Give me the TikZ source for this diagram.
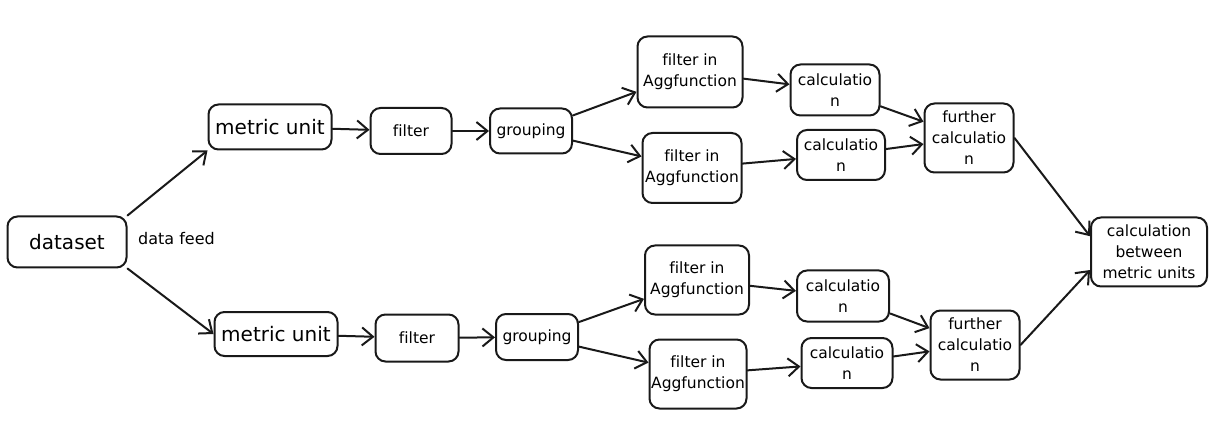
\documentclass[tikz,border=0pt]{standalone}
\usepackage{fontspec}
\setmainfont{DejaVu Sans}[Ligatures={NoCommon}]
\usetikzlibrary{arrows.meta}
\begin{document}
\begin{tikzpicture}[x=1pt,y=-1pt,
  box/.style={draw=black!90, line width=2pt, rounded corners=10pt, align=center,
    inner sep=0pt, font=\fontsize{15.5}{21}\selectfont},
  bigbox/.style={box, font=\fontsize{20}{23}\selectfont},
  conn/.style={draw=black!90, line width=2pt, line cap=round, line join=round,
    -{Straight Barb[length=11pt,width=18pt,line width=2pt]}}]
\useasboundingbox (0,0) rectangle (1215,430);
% nodes
\node[bigbox, minimum width=119pt, minimum height=51pt] (ds) at (67,242) {dataset};
\node[font=\fontsize{16}{18}\selectfont, anchor=west, inner sep=0pt] (feed) at (138,239) {data feed};
% top branch
\node[bigbox, minimum width=123pt, minimum height=45pt] (m1) at (270,127) {metric unit};
\node[box, minimum width=81pt, minimum height=46pt] (f1) at (411,131) {filter};
\node[box, minimum width=82pt, minimum height=45pt] (g1) at (531,131) {grouping};
\node[box, minimum width=105pt, minimum height=71pt] (a1) at (690,72) {filter in\\Aggfunction};
\node[box, minimum width=99pt, minimum height=70pt] (a2) at (692,168) {filter in\\Aggfunction};
\node[box, minimum width=89pt, minimum height=51pt] (c1) at (835,90) {calculatio\\n};
\node[box, minimum width=88pt, minimum height=50pt] (c2) at (841,155) {calculatio\\n};
\node[box, minimum width=89pt, minimum height=69pt] (u1) at (969,138) {further\\calculatio\\n};
% result
\node[box, minimum width=116pt, minimum height=69pt] (cb) at (1149,252) {calculation\\between\\metric units};
% bottom branch
\node[bigbox, minimum width=123pt, minimum height=44pt] (m2) at (276,334) {metric unit};
\node[box, minimum width=83pt, minimum height=47pt] (f2) at (417,338) {filter};
\node[box, minimum width=82pt, minimum height=46pt] (g2) at (537,337) {grouping};
\node[box, minimum width=104pt, minimum height=69pt] (a3) at (697,280) {filter in\\Aggfunction};
\node[box, minimum width=97pt, minimum height=69pt] (a4) at (698,374) {filter in\\Aggfunction};
\node[box, minimum width=92pt, minimum height=51pt] (c3) at (843,296) {calculatio\\n};
\node[box, minimum width=91pt, minimum height=50pt] (c4) at (847,363) {calculatio\\n};
\node[box, minimum width=89pt, minimum height=69pt] (u2) at (975,345) {further\\calculatio\\n};
% connectors
\draw[conn] (ds.north east) -- (m1.south west);
\draw[conn] (ds.south east) -- (m2.west);
\draw[conn] (m1) -- (f1);
\draw[conn] (f1) -- (g1);
\draw[conn] (g1) -- (a1);
\draw[conn] (g1) -- (a2);
\draw[conn] (a1) -- (c1);
\draw[conn] (a2) -- (c2);
\draw[conn] (c1) -- (u1);
\draw[conn] (c2) -- (u1);
\draw[conn] (u1.east) -- (cb.165);
\draw[conn] (m2) -- (f2);
\draw[conn] (f2) -- (g2);
\draw[conn] (g2) -- (a3);
\draw[conn] (g2) -- (a4);
\draw[conn] (a3) -- (c3);
\draw[conn] (a4) -- (c4);
\draw[conn] (c3) -- (u2);
\draw[conn] (c4) -- (u2);
\draw[conn] (u2.east) -- (cb.197);
\end{tikzpicture}
\end{document}
